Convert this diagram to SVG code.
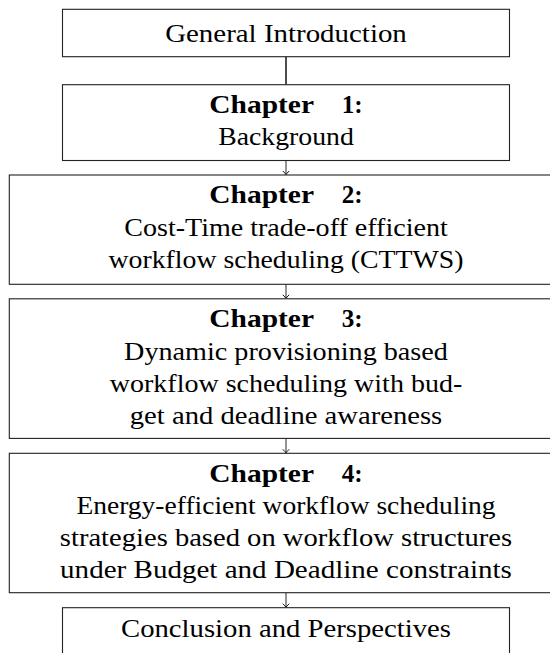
<svg xmlns="http://www.w3.org/2000/svg" width="550" height="653" viewBox="0 0 550 653">
<style>
.box{fill:#fff;stroke:#222;stroke-width:1.1}
.t{font-size:26px;fill:#000;text-anchor:middle}
.b{font-size:26px;font-weight:bold;fill:#000;text-anchor:start}
.arr{stroke:#111;stroke-width:0.9;fill:none}
</style>
<defs>
<marker id="to" viewBox="-5 -5 10 10" refX="0" refY="0" markerWidth="10" markerHeight="10" markerUnits="userSpaceOnUse" orient="auto">
<path d="M-3.6,-3.2 Q-1,-0.6 0,0 Q-1,0.6 -3.6,3.2" fill="none" stroke="#111" stroke-width="1"/>
</marker>
</defs>
<g id="connectors">
<line x1="286" y1="56.7" x2="286" y2="84.7" stroke="#000" stroke-width="1.4"/>
<line class="arr" x1="286" y1="160.5" x2="286" y2="174.6" marker-end="url(#to)"/>
<line class="arr" x1="286" y1="284.3" x2="286" y2="298.4" marker-end="url(#to)"/>
<line class="arr" x1="286" y1="438.4" x2="286" y2="452.9" marker-end="url(#to)"/>
<line class="arr" x1="286" y1="592.7" x2="286" y2="607.3" marker-end="url(#to)"/>
</g>
<g font-family="Liberation Serif, DejaVu Serif, serif">
<g id="intro">
<rect class="box" x="62.5" y="9.3" width="447" height="47.4"/>
<text class="t" x="286" y="41.7" textLength="241.7" lengthAdjust="spacingAndGlyphs">General Introduction</text>
</g>
<g id="ch1">
<rect class="box" x="62.5" y="84.7" width="447" height="75.8"/>
<text class="b" x="209.3" y="112.7" textLength="104.7" lengthAdjust="spacingAndGlyphs">Chapter</text>
<text class="b" x="341.7" y="112.7" textLength="21" lengthAdjust="spacingAndGlyphs">1:</text>
<text class="t" x="286" y="145.3" textLength="135.7" lengthAdjust="spacingAndGlyphs">Background</text>
</g>
<g id="ch2">
<rect class="box" x="9.3" y="175" width="553.4" height="109.3"/>
<text class="b" x="209.3" y="203.3" textLength="104.7" lengthAdjust="spacingAndGlyphs">Chapter</text>
<text class="b" x="341.7" y="203.3" textLength="21" lengthAdjust="spacingAndGlyphs">2:</text>
<text class="t" x="286" y="235.8" textLength="323.5" lengthAdjust="spacingAndGlyphs">Cost-Time trade-off efficient</text>
<text class="t" x="286" y="268.2" textLength="355" lengthAdjust="spacingAndGlyphs">workflow scheduling (CTTWS)</text>
</g>
<g id="ch3">
<rect class="box" x="9.3" y="298.8" width="553.4" height="139.6"/>
<text class="b" x="209.3" y="327.3" textLength="104.7" lengthAdjust="spacingAndGlyphs">Chapter</text>
<text class="b" x="341.7" y="327.3" textLength="21" lengthAdjust="spacingAndGlyphs">3:</text>
<text class="t" x="286" y="359.6" textLength="323.8" lengthAdjust="spacingAndGlyphs">Dynamic provisioning based</text>
<text class="t" x="286" y="391.9" textLength="352.5" lengthAdjust="spacingAndGlyphs">workflow scheduling with bud-</text>
<text class="t" x="286" y="424.2" textLength="312.4" lengthAdjust="spacingAndGlyphs">get and deadline awareness</text>
</g>
<g id="ch4">
<rect class="box" x="9.3" y="453.3" width="553.4" height="139.4"/>
<text class="b" x="209.3" y="481.5" textLength="104.7" lengthAdjust="spacingAndGlyphs">Chapter</text>
<text class="b" x="341.7" y="481.5" textLength="21" lengthAdjust="spacingAndGlyphs">4:</text>
<text class="t" x="286" y="513.8" textLength="419.2" lengthAdjust="spacingAndGlyphs">Energy-efficient workflow scheduling</text>
<text class="t" x="286" y="546.1" textLength="452.3" lengthAdjust="spacingAndGlyphs">strategies based on workflow structures</text>
<text class="t" x="286" y="578.4" textLength="451.8" lengthAdjust="spacingAndGlyphs">under Budget and Deadline constraints</text>
</g>
<g id="conclusion">
<rect class="box" x="62.5" y="607.7" width="447" height="47.4"/>
<text class="t" x="286" y="637" textLength="330" lengthAdjust="spacingAndGlyphs">Conclusion and Perspectives</text>
</g>
</g>
</svg>
